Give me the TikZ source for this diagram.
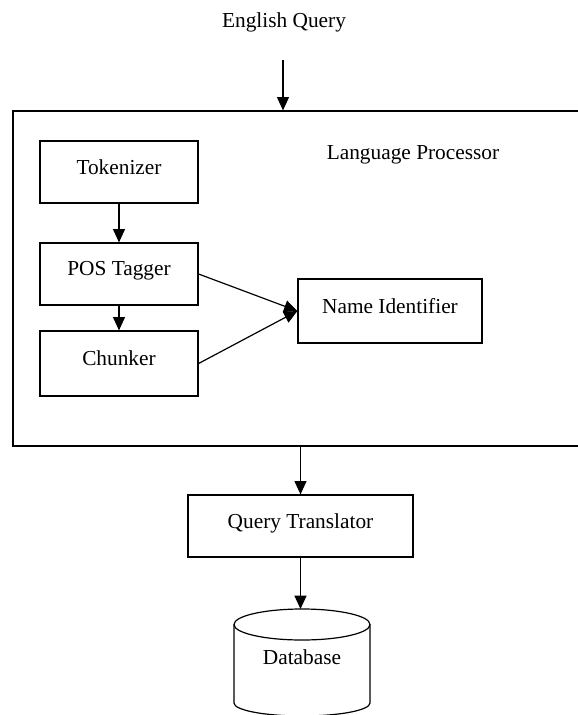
\documentclass[tikz,border=0pt]{standalone}
\usepackage{fontspec}
\setmainfont{Liberation Serif}
\usetikzlibrary{arrows.meta}

\begin{document}
\begin{tikzpicture}[x=0.75pt, y=-0.75pt,
    box/.style={draw, line width=0.9pt, inner sep=0pt, text depth=8pt, font=\fontsize{16}{19}\selectfont},
    lbl/.style={inner sep=0pt, font=\fontsize{16}{19}\selectfont},
    arr/.style={line width=0.9pt, -{Triangle[length=10pt,width=9pt]}}]
    \useasboundingbox (0,0) rectangle (578,715);
    \clip (0,0) rectangle (578,715);

    % Input
    \node[lbl] (eq) at (284,22) {English Query};
    \coordinate (qin) at (283,60);

    % Language processor
    \node[box, minimum width=573*0.75pt, minimum height=335*0.75pt] (lp) at (299.5,278.5) {};
    \node[lbl] (lptitle) at (413,155) {Language Processor};
    \draw[arr] (qin) -- (qin |- lp.north);

    % Stages inside the processor
    \node[box, minimum width=158*0.75pt, minimum height=62*0.75pt] (tok) at (119,172) {Tokenizer};
    \node[box, minimum width=158*0.75pt, minimum height=62*0.75pt] (pos) at (119,274) {POS Tagger};
    \node[box, minimum width=158*0.75pt, minimum height=65*0.75pt] (chk) at (119,363.5) {Chunker};
    \node[box, minimum width=184*0.75pt, minimum height=64*0.75pt] (nid) at (390,311) {Name Identifier};
    \draw[arr] (tok) -- (pos);
    \draw[arr] (pos) -- (chk);
    \draw[arr] (pos.east) -- (nid.west);
    \draw[arr] (chk.east) -- (nid.west);

    % Query translator
    \node[box, minimum width=225*0.75pt, minimum height=62*0.75pt] (qt) at (300.5,526) {Query Translator};
    \draw[arr] (qt.north |- lp.south) -- (qt);

    % Database
    \coordinate (dbtop) at (301,609);
    \draw[line width=0.9pt] (234,624.5) -- (234,703) arc[start angle=180, end angle=0, x radius=68, y radius=13] -- (370,624.5);
    \draw[line width=0.9pt] (302,624.5) ellipse [x radius=68, y radius=15.5];
    \node[lbl] (db) at (302,657) {Database};
    \draw[arr] (qt.south) -- (qt.south |- dbtop);
\end{tikzpicture}
\end{document}
